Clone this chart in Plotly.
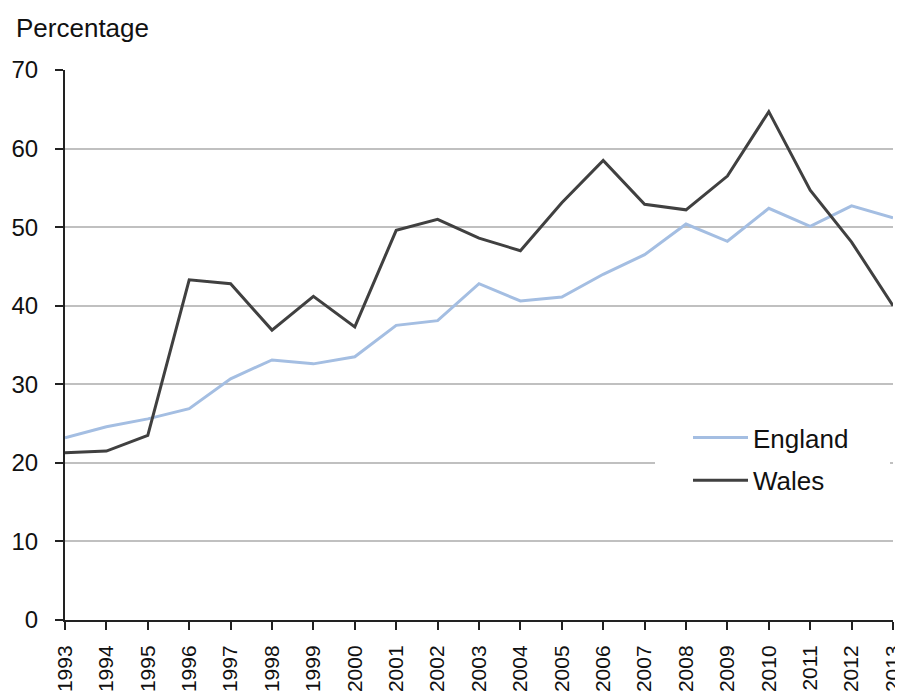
import plotly.graph_objects as go

years = [str(y) for y in range(1993, 2014)]
england = [23.2, 24.6, 25.6, 26.9, 30.7, 33.1, 32.6, 33.5, 37.5, 38.1, 42.8,
           40.6, 41.1, 44.0, 46.5, 50.4, 48.2, 52.4, 50.1, 52.7, 51.2]
wales = [21.3, 21.5, 23.5, 43.3, 42.8, 36.9, 41.2, 37.3, 49.6, 51.0, 48.6,
         47.0, 53.1, 58.5, 52.9, 52.2, 56.5, 64.7, 54.7, 48.1, 40.0]
y_ticks = [0, 10, 20, 30, 40, 50, 60, 70]

FONT = "Liberation Sans, Arial, sans-serif"
OFF = 8  # page body margin
W, H = 903 - OFF, 696 - OFF
L, R, T, B = 65 - OFF, 10, 70 - OFF, 76
PW, PH = W - L - R, H - T - B


def px_x(p):
    return (p - OFF - L) / PW


def px_y(p):
    return (H - B - (p - OFF)) / PH


fig = go.Figure()
fig.add_trace(go.Scatter(x=years, y=england, mode="lines", name="England",
                         line=dict(color="#A4BEE2", width=3),
                         legendgroup="e"))
fig.add_trace(go.Scatter(x=years, y=wales, mode="lines", name="Wales",
                         line=dict(color="#404040", width=3),
                         legendgroup="w"))

fig.update_layout(
    width=W, height=H,
    margin=dict(l=L, r=R, t=T, b=B),
    plot_bgcolor="white", paper_bgcolor="white",
    font=dict(family=FONT, size=23, color="#111"),
    showlegend=True,
    legend=dict(x=px_x(688), y=px_y(414), xanchor="left", yanchor="top",
                bgcolor="rgba(0,0,0,0)", font=dict(size=26, family=FONT, color="#111"),
                traceorder="grouped", tracegroupgap=6, itemwidth=55),
    shapes=[dict(type="rect", xref="paper", yref="paper", layer="above",
                 x0=px_x(655), x1=px_x(890), y0=px_y(500), y1=px_y(425),
                 fillcolor="white", line=dict(width=0))],
    annotations=[dict(text="Percentage", xref="paper", yref="paper",
                      x=px_x(14), y=px_y(28), xanchor="left", yanchor="middle",
                      showarrow=False, font=dict(size=26, family=FONT, color="#111"))],
)
fig.update_xaxes(type="category", range=[0, 20], showgrid=False, automargin=False,
                 showline=True, linecolor="#222", linewidth=2,
                 ticks="outside", ticklen=8, tickcolor="#222", tickwidth=2,
                 tickangle=-90, ticklabelstandoff=7,
                 tickfont=dict(size=21, family=FONT, color="#111"))
fig.update_yaxes(range=[0, 70], tickvals=y_ticks, showgrid=True, automargin=False,
                 gridcolor="#C0C0C0", gridwidth=1.5,
                 showline=True, linecolor="#222", linewidth=2,
                 ticks="outside", ticklen=8, tickcolor="#222", tickwidth=2,
                 ticklabelstandoff=12, zeroline=False,
                 tickfont=dict(size=24, family=FONT, color="#111"))

fig.write_html("out.html")
